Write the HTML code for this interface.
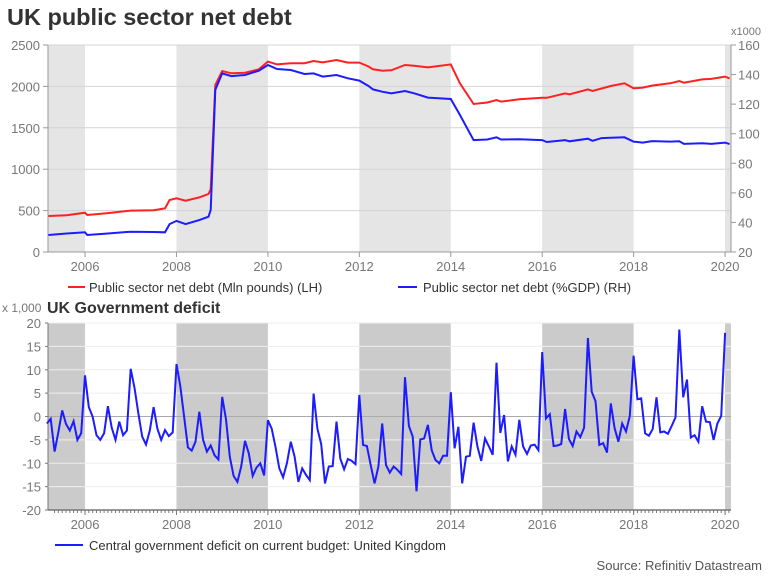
<!DOCTYPE html>
<html><head><meta charset="utf-8">
<style>
html,body{margin:0;padding:0;background:#fff;}
svg{display:block;font-family:"Liberation Sans",sans-serif;}
</style></head>
<body>
<svg id="c" width="768" height="576" xmlns="http://www.w3.org/2000/svg"></svg>
<script>
// ---- data: UK public sector net debt (time, value) ----
const debtTimes = [2005.2,2005.6,2006.0,2006.05,2006.5,2007.0,2007.5,2007.75,2007.85,2008.0,2008.2,2008.5,2008.7,2008.75,2008.85,2009.0,2009.2,2009.5,2009.8,2010.0,2010.2,2010.5,2010.8,2011.0,2011.2,2011.5,2011.75,2012.0,2012.2,2012.3,2012.5,2012.7,2013.0,2013.2,2013.5,2014.0,2014.2,2014.5,2014.8,2015.0,2015.1,2015.5,2016.0,2016.1,2016.5,2016.6,2017.0,2017.1,2017.3,2017.5,2017.8,2018.0,2018.2,2018.4,2018.8,2019.0,2019.1,2019.5,2019.7,2020.0,2020.1];
const debtMlnPounds = [435,445,475,447,470,500,505,527,628,648,620,660,700,757,2017,2186,2158,2166,2206,2299,2266,2279,2280,2307,2290,2319,2287,2287,2240,2206,2190,2195,2258,2250,2230,2266,2037,1787,1806,1836,1816,1844,1864,1862,1916,1905,1964,1944,1975,2005,2037,1977,1985,2010,2037,2065,2045,2085,2090,2118,2097];
const debtPctGDP = [31.5,32.5,33.3,31.5,32.5,33.7,33.5,33.3,38.9,41,38.9,41.6,43.9,48.4,129.6,140.8,139,139.7,142.6,146.5,143.8,143.1,140.4,140.8,138.6,139.7,137.5,135.9,132.3,130,128.4,127.3,128.9,127.3,124.4,123.5,112.7,95.7,96.1,97.6,96.1,96.3,95.7,94.4,95.7,94.9,96.6,95.2,97,97.3,97.6,94.7,94,95,94.7,94.9,93.1,93.5,93.1,94,93];
const leftTicks = [0,500,1000,1500,2000,2500];
const rightTicks = [20,40,60,80,100,120,140,160];
const yearTicks = [2006,2008,2010,2012,2014,2016,2018,2020];
// ---- data: deficit monthly from Mar 2005 ----
const deficitStart = 2005 + 2/12;
const deficit = [
-1.5,-0.5,-7.5,-3.3,1.3,-1.6,-3,-1,-5,-3.6,
8.8,2,0,-4,-5,-3.6,2.2,-2.4,-5,-1.1,-4,-3,
10.2,6,0.6,-4.3,-6,-3,2,-2.6,-5,-2.9,-4.2,-3.4,
11.2,6.5,0,-6.6,-7.3,-5.4,1,-5,-7.5,-6.2,-8.3,-9.2,
4.2,-0.6,-8.6,-12.7,-14,-10.7,-5.2,-7.9,-12.7,-10.9,-10,-12.6,
-0.8,-2.6,-6.5,-11.1,-13,-10,-5.4,-8.6,-14,-11.1,-12.5,-13.6,
4.9,-2.6,-5.9,-14.3,-10.7,-10.6,-1.1,-9,-11.3,-9.1,-9.5,-10.2,
4.6,-6.1,-6.3,-10.5,-14.3,-10.7,-1.5,-10.4,-12,-10.7,-11.4,-12.3,
8.4,-2,-4.3,-16,-4.9,-4.7,-1.8,-7.2,-9.3,-10,-8.4,-8.4,
5.2,-6.8,-2.2,-14.3,-8.6,-8.4,-1.3,-6.4,-9.5,-4.7,-6.4,-8.2,
11.5,-3.5,0.3,-9.6,-6.4,-8.2,-0.7,-6.4,-8,-6.2,-6,-7.2,
13.8,-0.4,0.5,-6.3,-6.2,-5.9,1.6,-4.8,-6.3,-3.2,-4.4,-2.4,
16.8,5.3,3.3,-6.1,-5.7,-7.7,2.8,-2.5,-5.4,-1.5,-3.2,0.1,
13,3.7,3.9,-3.6,-4.1,-2.7,4.1,-3.4,-3.2,-3.7,-2,-0.2,
18.6,4.1,7.9,-4.5,-4,-5.4,2.2,-1.1,-1.2,-5,-1.5,0.1,
17.9];
const defTicks = [-20,-15,-10,-5,0,5,10,15,20];
const shadeBands = [[2005.1,2006],[2008,2010],[2012,2014],[2016,2018],[2020,2020.13]];

const NS='http://www.w3.org/2000/svg';
const svg=document.getElementById('c');
function mk(tag,attrs,parent,text){const e=document.createElementNS(NS,tag);for(const k in attrs)e.setAttribute(k,attrs[k]);if(text!==undefined)e.textContent=text;(parent||svg).appendChild(e);return e;}
const X0=48,X1=731,T0=2005.19,T1=2020.13;
const xs=t=>X0+(t-T0)/(T1-T0)*(X1-X0);
const yL=v=>252-v/2500*207;
const yR=v=>252-(v-20)/140*207;
const yD=v=>416.5-v/20*93.5;

let e=mk('text',{x:7,y:25,'font-size':23.5,'font-weight':'bold',fill:'#333'},svg,'UK public sector net debt');


const gTop=mk('g',{});
shadeBands.forEach(b=>{const x=xs(Math.max(b[0],T0)),x2=xs(Math.min(b[1],T1));
 e=mk('rect',{x:x,y:45,width:x2-x,height:207,fill:'#e5e5e5'},gTop);
 });
leftTicks.forEach(v=>{ if(v>0){e=mk('line',{x1:X0,x2:X1,y1:yL(v),y2:yL(v),stroke:'#d4d4d4','stroke-width':1},gTop);}
 e=mk('line',{x1:X0-5,x2:X0,y1:yL(v),y2:yL(v),stroke:'#999'},gTop);
 e=mk('text',{x:40,y:yL(v)+5,'font-size':13,fill:'#777','text-anchor':'end'},gTop,String(v));
 });
mk('line',{x1:X0,x2:X0,y1:45,y2:252,stroke:'#999'},gTop);
mk('line',{x1:X0,x2:X1,y1:252,y2:252,stroke:'#999'},gTop);
mk('line',{x1:X1,x2:X1,y1:45,y2:252,stroke:'#999'},gTop);
rightTicks.forEach(v=>{mk('line',{x1:X1,x2:X1+5,y1:yR(v),y2:yR(v),stroke:'#999'},gTop);
 e=mk('text',{x:738,y:yR(v)+5,'font-size':13,fill:'#777'},gTop,String(v));
 });
e=mk('text',{x:731,y:35,'font-size':11,fill:'#777'},gTop,'x1000');

yearTicks.forEach(y=>{mk('line',{x1:xs(y),x2:xs(y),y1:252,y2:257,stroke:'#999'},gTop);
 e=mk('text',{x:xs(y),y:271,'font-size':13,fill:'#777','text-anchor':'middle'},gTop,String(y));
 });
let p=debtTimes.map((t,i)=>xs(t).toFixed(1)+','+yL(debtMlnPounds[i]).toFixed(1)).join(' ');
e=mk('polyline',{points:p,fill:'none',stroke:'#ff2020','stroke-width':2},gTop);

p=debtTimes.map((t,i)=>xs(t).toFixed(1)+','+yR(debtPctGDP[i]).toFixed(1)).join(' ');
e=mk('polyline',{points:p,fill:'none',stroke:'#1c1cff','stroke-width':2},gTop);


e=mk('line',{x1:68,x2:85,y1:287,y2:287,stroke:'#ff2020','stroke-width':2});

e=mk('text',{x:89,y:292,'font-size':13,fill:'#333'},svg,'Public sector net debt (Mln pounds) (LH)');

e=mk('line',{x1:398,x2:417,y1:287,y2:287,stroke:'#1c1cff','stroke-width':2});

e=mk('text',{x:423,y:292,'font-size':13,fill:'#333'},svg,'Public sector net debt (%GDP) (RH)');


e=mk('text',{x:2,y:312,'font-size':12,fill:'#777'},svg,'x 1,000');

e=mk('text',{x:47,y:313,'font-size':16,'font-weight':'bold',fill:'#333'},svg,'UK Government deficit');

const gB=mk('g',{});
shadeBands.forEach(b=>{const x=xs(Math.max(b[0],T0)),x2=xs(Math.min(b[1],T1));
 e=mk('rect',{x:x,y:323,width:x2-x,height:187,fill:'#cbcbcb'},gB);
 });
defTicks.forEach(v=>{ if(v!==-20){e=mk('line',{x1:X0,x2:X1,y1:yD(v),y2:yD(v),stroke:v===0?'#aaa':'#eeeeee','stroke-width':1},gB);
 }
 mk('line',{x1:X0-3,x2:X0,y1:yD(v),y2:yD(v),stroke:'#777'},gB);
 e=mk('text',{x:41,y:yD(v)+5,'font-size':13,fill:'#777','text-anchor':'end'},gB,String(v));
 });
mk('line',{x1:X0,x2:X0,y1:323,y2:510,stroke:'#777'},gB);
mk('line',{x1:X0,x2:X1,y1:510,y2:510,stroke:'#777','stroke-width':1.5},gB);
for(let t=2005+4/12;t<T1;t+=1/12){mk('line',{x1:xs(t),x2:xs(t),y1:510,y2:513,stroke:'#777'},gB);}
yearTicks.forEach(y=>{mk('line',{x1:xs(y),x2:xs(y),y1:510,y2:515,stroke:'#777'},gB);
 e=mk('text',{x:xs(y),y:529,'font-size':13,fill:'#777','text-anchor':'middle'},gB,String(y));
 });
p=deficit.map((v,i)=>xs(deficitStart+i/12).toFixed(1)+','+yD(v).toFixed(1)).join(' ');
e=mk('polyline',{points:p,fill:'none',stroke:'#1c1cff','stroke-width':2},gB);


e=mk('line',{x1:55,x2:83,y1:545,y2:545,stroke:'#1c1cff','stroke-width':2});

e=mk('text',{x:89,y:550,'font-size':13,fill:'#333'},svg,'Central government deficit on current budget: United Kingdom');

e=mk('text',{x:762,y:570,'font-size':13,fill:'#555','text-anchor':'end'},svg,'Source: Refinitiv Datastream');

</script>
</body></html>
